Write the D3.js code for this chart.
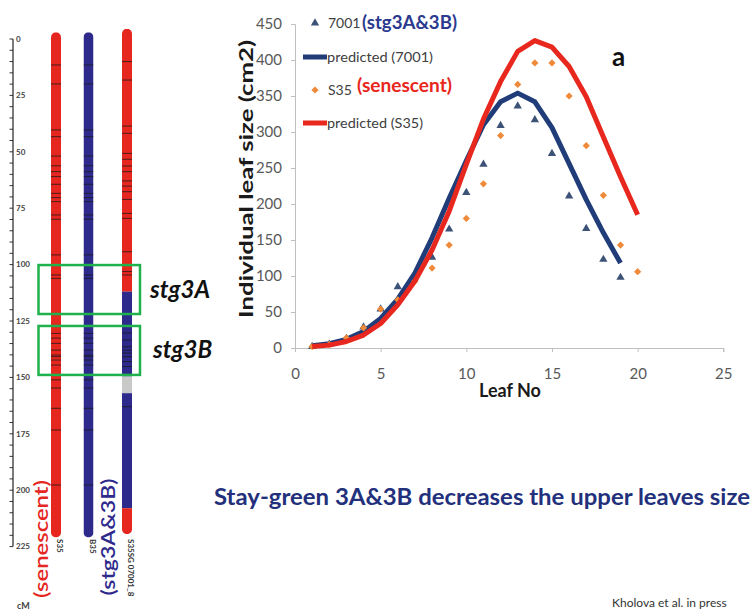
<!DOCTYPE html>
<html>
<head>
<meta charset="utf-8">
<script src="https://cdn.jsdelivr.net/npm/d3@7"></script>
<style>
  body { margin: 0; background: #fff; }
  svg { display: block; font-family: Lato, "Open Sans", sans-serif; }
</style>
</head>
<body>
<div id="chart"></div>
<script>
// leaf size data (cm2) per leaf number
var leaves7001 = [1,2,3,4,5,6,7,8,9,10,11,12,13,14,15,16,17,18,19];
var obs7001 = [2,5,13,29,54,85,101,126,165,216,255,309,336,317,270,211,166,123,98];
var pred7001 = [3,6,12,23,41,68,104,153,208,260,310,342,354,342,306,256,206,160,118];

var leavesS35 = [1,2,3,4,5,6,7,8,9,10,11,12,13,14,15,16,17,18,19,20];
var obsS35 = [2,5,14,28,54,67,93,111,143,180,228,295,366,396,396,350,281,212,143,106];
var predS35 = [2,4,9,18,34,60,93,136,190,255,318,370,412,427,418,391,349,293,238,185];

var xTicks = [0,5,10,15,20,25];
var yTicks = [0,50,100,150,200,250,300,350,400,450];

// chromosome map (cM)
var cmTicks = [0,25,50,75,100,125,150,175,200,225];
var markersParent = [11.5,19.9,40.3,43.3,51.9,56.2,58.8,61,64.4,68.4,70.3,72.1,78,79.9,95.7,104.6,106.1,
                     130.5,132.6,134.9,137.9,140.1,140.8,142.3,144.5,151.1,154.7,163.7,173.3,197.7];
var markersNil = [10,18.2,38.6,41.8,50.7,53.3,56.3,58.8,62.9,65.2,67.7,71.1,77.3,79.5,94.3,103.1,104.6,
                  130.3,133.4,136.4,137.9,139.2,140.8,143,145.2,163];
var nilSegments = [
  {from: -4.5, to: 112, c: "#e5271f"},
  {from: 112, to: 149.6, c: "#2e2a8c"},
  {from: 149.6, to: 157, c: "#c9c9c9"},
  {from: 157, to: 208, c: "#2e2a8c"},
  {from: 208, to: 219.5, c: "#e5271f"}
];
var qtlBoxes = [{name: "stg3A", from: 100.2, to: 121.9}, {name: "stg3B", from: 127.2, to: 148.9}];

var W = 754, H = 613;
var svg = d3.select("#chart").append("svg").attr("width", W).attr("height", H);
svg.append("rect").attr("width", W).attr("height", H).attr("fill", "#fff");

// ---------- chromosome map ----------
var cm = d3.scaleLinear().domain([0, 225]).range([39, 546.6]);
var axisG = svg.append("g");
axisG.append("line").attr("x1", 13).attr("x2", 13).attr("y1", cm(0)).attr("y2", cm(225))
  .attr("stroke", "#333").attr("stroke-width", 1.3);
axisG.selectAll("line.t").data(d3.range(0, 226, 5)).join("line").attr("class", "t")
  .attr("x1", 9.5).attr("x2", 13).attr("y1", d => cm(d)).attr("y2", d => cm(d))
  .attr("stroke", "#333").attr("stroke-width", 1);
axisG.selectAll("text").data(cmTicks).join("text")
  .attr("x", 16).attr("y", d => cm(d)).attr("dy", "0.35em")
  .attr("font-size", 8).attr("font-weight", "bold").attr("fill", "#444")
  .text(d => d);
svg.append("text").attr("x", 17).attr("y", 609).attr("font-size", 9).attr("font-weight", "bold")
  .attr("fill", "#444").text("cM");

function bar(cx, top, bottom, segs, markers) {
  var id = "clip" + Math.round(cx);
  svg.append("clipPath").attr("id", id).append("rect")
    .attr("x", cx - 5).attr("width", 10).attr("y", cm(top)).attr("height", cm(bottom) - cm(top))
    .attr("rx", 5);
  var g = svg.append("g").attr("clip-path", "url(#" + id + ")");
  g.selectAll("rect").data(segs).join("rect")
    .attr("x", cx - 5).attr("width", 10)
    .attr("y", d => cm(d.from)).attr("height", d => cm(d.to) - cm(d.from))
    .attr("fill", d => d.c);
  g.selectAll("line").data(markers).join("line")
    .attr("x1", cx - 5).attr("x2", cx + 5).attr("y1", d => cm(d)).attr("y2", d => cm(d))
    .attr("stroke", "#1a1a1a").attr("stroke-opacity", 0.75).attr("stroke-width", 1);
}
bar(56, -3, 221, [{from: -3, to: 221, c: "#e5271f"}], markersParent);
bar(88.5, -3, 221, [{from: -3, to: 221, c: "#2e2a8c"}], markersParent);
bar(127, -4.5, 219.5, nilSegments, markersNil);

svg.selectAll("rect.qtl").data(qtlBoxes).join("rect").attr("class", "qtl")
  .attr("x", 38.5).attr("width", 101.5)
  .attr("y", d => cm(d.from)).attr("height", d => cm(d.to) - cm(d.from))
  .attr("fill", "none").attr("stroke", "#1fb14b").attr("stroke-width", 2.5);
svg.selectAll("text.qtl").data(qtlBoxes).join("text").attr("class", "qtl")
  .attr("x", (d, i) => i ? 153 : 150)
  .attr("y", d => (cm(d.from) + cm(d.to)) / 2 + 8)
  .attr("font-size", 24).attr("font-weight", "bold").attr("font-style", "italic")
  .attr("fill", "#111").text(d => d.name);

// rotated labels under the bars
[["S35", 56], ["B35", 88.5], ["S35SG 07001_8", 127]].forEach(function (p) {
  svg.append("text").attr("transform", "translate(" + (p[1] + 1) + ",539) rotate(90)")
    .attr("font-size", 8).attr("font-weight", "bold").attr("fill", "#333").text(p[0]);
});
svg.append("text").attr("transform", "translate(48,539) rotate(-90)")
  .attr("text-anchor", "middle").attr("font-size", 20).attr("font-weight", 600).attr("fill", "#e5271f")
  .attr("textLength", 118).attr("lengthAdjust", "spacingAndGlyphs").text("(senescent)");
svg.append("text").attr("transform", "translate(115,537) rotate(-90)")
  .attr("text-anchor", "middle").attr("font-size", 20).attr("font-weight", 600).attr("fill", "#2e2a8c")
  .attr("textLength", 117).attr("lengthAdjust", "spacingAndGlyphs").text("(stg3A&3B)");

// ---------- leaf size chart ----------
var x = d3.scaleLinear().domain([0, 25]).range([295, 723.3]);
var y = d3.scaleLinear().domain([0, 450]).range([348, 24]);

var yAxis = svg.append("g").attr("transform", "translate(295,0)")
  .call(d3.axisLeft(y).tickValues(yTicks).tickSize(4).tickPadding(9));
var xAxis = svg.append("g").attr("transform", "translate(0,348)")
  .call(d3.axisBottom(x).tickValues(xTicks).tickSize(4).tickPadding(16));
[yAxis, xAxis].forEach(function (a) {
  a.select(".domain").attr("stroke", "#bfbfbf");
  a.selectAll(".tick line").attr("stroke", "#bfbfbf");
  a.selectAll(".tick text").attr("fill", "#595959").attr("font-size", 15)
    .attr("font-family", "Lato, sans-serif");
});

svg.append("text").attr("transform", "translate(253,179) rotate(-90)")
  .attr("text-anchor", "middle").attr("font-size", 18).attr("font-weight", "bold")
  .attr("fill", "#1a1a1a").attr("textLength", 278).attr("lengthAdjust", "spacingAndGlyphs")
  .text("Individual leaf size (cm2)");
svg.append("text").attr("x", 510).attr("y", 397).attr("text-anchor", "middle")
  .attr("font-size", 18).attr("font-weight", "bold").attr("fill", "#1a1a1a").text("Leaf No");

var blue = "#203c79", red = "#e8281e", tri = "#3d5277", dia = "#ef8a3a";
var line = d3.line().x(d => x(d[0])).y(d => y(d[1]));

svg.append("g").selectAll("path").data(d3.zip(leaves7001, obs7001)).join("path")
  .attr("transform", d => "translate(" + x(d[0]) + "," + y(d[1]) + ")")
  .attr("d", d3.symbol(d3.symbolTriangle, 30)).attr("fill", tri);
svg.append("path").datum(d3.zip(leaves7001, pred7001)).attr("d", line)
  .attr("fill", "none").attr("stroke", blue).attr("stroke-width", 5).attr("stroke-linejoin", "round");
svg.append("g").selectAll("path").data(d3.zip(leavesS35, obsS35)).join("path")
  .attr("transform", d => "translate(" + x(d[0]) + "," + y(d[1]) + ") rotate(45)")
  .attr("d", d3.symbol(d3.symbolSquare, 26)).attr("fill", dia);
svg.append("path").datum(d3.zip(leavesS35, predS35)).attr("d", line)
  .attr("fill", "none").attr("stroke", red).attr("stroke-width", 5).attr("stroke-linejoin", "round");

// legend
var lg = svg.append("g");
lg.append("path").attr("transform", "translate(315,23)").attr("d", d3.symbol(d3.symbolTriangle, 30)).attr("fill", tri);
lg.append("text").attr("x", 328).attr("y", 28).attr("font-size", 14).attr("fill", "#404040").text("7001");
lg.append("text").attr("x", 362).attr("y", 29).attr("font-size", 19).attr("font-weight", "bold")
  .attr("fill", "#2b3a8f").attr("textLength", 95).attr("lengthAdjust", "spacingAndGlyphs").text("(stg3A&3B)");
lg.append("line").attr("x1", 303).attr("x2", 327).attr("y1", 57).attr("y2", 57)
  .attr("stroke", blue).attr("stroke-width", 5);
lg.append("text").attr("x", 327).attr("y", 62).attr("font-size", 14).attr("fill", "#404040")
  .attr("textLength", 106).attr("lengthAdjust", "spacingAndGlyphs").text("predicted (7001)");
lg.append("path").attr("transform", "translate(315,90) rotate(45)").attr("d", d3.symbol(d3.symbolSquare, 26)).attr("fill", dia);
lg.append("text").attr("x", 328).attr("y", 95).attr("font-size", 14).attr("fill", "#404040").text("S35");
lg.append("text").attr("x", 357).attr("y", 92).attr("font-size", 19).attr("font-weight", "bold")
  .attr("fill", "#e8261c").attr("textLength", 95).attr("lengthAdjust", "spacingAndGlyphs").text("(senescent)");
lg.append("line").attr("x1", 303).attr("x2", 327).attr("y1", 123).attr("y2", 123)
  .attr("stroke", red).attr("stroke-width", 5);
lg.append("text").attr("x", 327).attr("y", 128).attr("font-size", 14).attr("fill", "#404040")
  .attr("textLength", 96).attr("lengthAdjust", "spacingAndGlyphs").text("predicted (S35)");

svg.append("text").attr("x", 612).attr("y", 66).attr("font-size", 26).attr("font-weight", "bold")
  .attr("fill", "#111").text("a");

// caption and citation
svg.append("text").attr("x", 214).attr("y", 505).attr("font-size", 22).attr("font-weight", "bold")
  .attr("fill", "#23307c").attr("textLength", 536).attr("lengthAdjust", "spacingAndGlyphs")
  .text("Stay-green 3A&3B decreases the upper leaves size");
svg.append("text").attr("x", 612).attr("y", 607).attr("font-size", 12).attr("fill", "#333")
  .text("Kholova et al. in press");
</script>
</body>
</html>
